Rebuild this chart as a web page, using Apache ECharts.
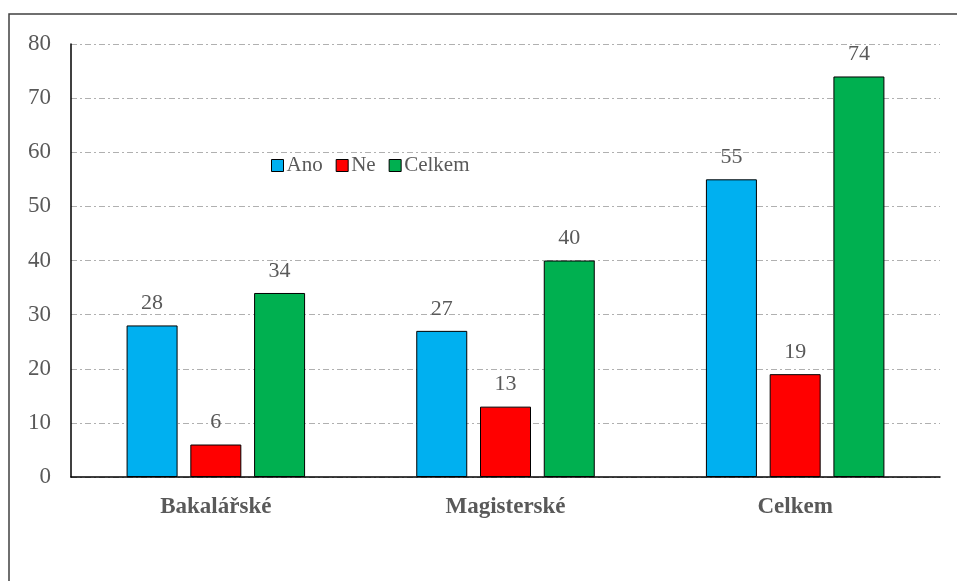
<!DOCTYPE html>
<html>
<head>
<meta charset="utf-8">
<script src="https://cdn.jsdelivr.net/npm/echarts@6/dist/echarts.min.js"></script>
<style>
  html, body { margin: 0; padding: 0; background: #fff; }
  #chart { width: 957px; height: 581px; }
</style>
</head>
<body>
<div id="chart"></div>
<script>
const categories = ['Bakalářské', 'Magisterské', 'Celkem']
const anoValues = [28, 27, 55]
const neValues = [6, 13, 19]
const celkemValues = [34, 40, 74]
const yTicks = { min: 0, max: 80, interval: 10 }

const font = '"Liberation Serif", "Times New Roman", serif'
const textGray = '#595959'

const chart = echarts.init(document.getElementById('chart'))

function barSeries(name, data, color) {
  return {
    name,
    type: 'bar',
    data,
    barWidth: 51,
    barGap: '25%',
    itemStyle: { color, borderColor: '#000', borderWidth: 1 },
    label: {
      show: true,
      position: 'top',
      distance: 11,
      color: textGray,
      fontFamily: font,
      fontSize: 22,
    },
  }
}

chart.setOption({
  animation: false,
  graphic: [
    {
      type: 'rect',
      shape: { x: 9, y: 14, width: 960, height: 600 },
      style: { fill: 'none', stroke: '#404040', lineWidth: 1.5 },
      z: -1,
    },
  ],
  legend: {
    left: 266,
    top: 150,
    itemWidth: 12,
    itemHeight: 12,
    itemGap: 13,
    icon: 'rect',
    textStyle: { color: textGray, fontFamily: font, fontSize: 21, padding: [0, 0, 0, -2] },
    itemStyle: { borderColor: '#000', borderWidth: 1 },
  },
  grid: { left: 71, top: 44, right: 17, bottom: 104, containLabel: false },
  xAxis: {
    type: 'category',
    data: categories,
    axisLine: { lineStyle: { color: '#000', width: 1.5 } },
    axisTick: { show: false },
    axisLabel: {
      margin: 19,
      color: textGray,
      fontFamily: font,
      fontSize: 23,
      fontWeight: 'bold',
    },
  },
  yAxis: {
    type: 'value',
    min: yTicks.min,
    max: yTicks.max,
    interval: yTicks.interval,
    axisLine: { show: true, lineStyle: { color: '#000', width: 1.5 } },
    axisTick: { show: false },
    axisLabel: { margin: 20, color: textGray, fontFamily: font, fontSize: 23 },
    splitLine: { lineStyle: { color: '#b0b0b0', type: [6, 3, 2, 3], width: 1 } },
  },
  series: [
    barSeries('Ano', anoValues, '#00b0f0'),
    barSeries('Ne', neValues, '#ff0000'),
    barSeries('Celkem', celkemValues, '#00b050'),
  ],
})
</script>
</body>
</html>
